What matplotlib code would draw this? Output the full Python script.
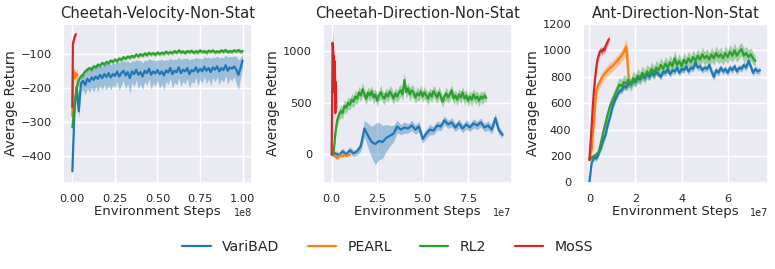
import numpy as np
import matplotlib
matplotlib.use("Agg")
import matplotlib.pyplot as plt
import seaborn as sns

sns.set_theme(style="darkgrid")
plt.rcParams['font.family'] = ['DejaVu Sans']

methods = ["VariBAD", "PEARL", "RL2", "MoSS"]
colors = {"VariBAD": "#1f77b4", "PEARL": "#ff7f0e", "RL2": "#2ca02c", "MoSS": "#d62728"}
titles = ["Cheetah-Velocity-Non-Stat", "Cheetah-Direction-Non-Stat", "Ant-Direction-Non-Stat"]

# ---------------- Panel 1: Cheetah-Velocity (x in 1e8 steps) ----------------
cv_varibad_end = 1.0e8
cv_varibad = [-445, -260, -195, -268, -185, -178, -190, -172, -180, -168,
              -175, -165, -172, -160, -170, -158, -166, -155, -168, -158,
              -163, -150, -165, -155, -148, -162, -152, -170, -150, -158,
              -145, -160, -152, -165, -148, -155, -142, -160, -150, -156,
              -146, -158, -150, -162, -147, -153, -140, -158, -148, -152,
              -138, -155, -145, -150, -140, -158, -146, -150, -138, -152,
              -142, -150, -136, -148, -140, -152, -138, -145, -135, -150,
              -140, -146, -132, -148, -138, -142, -135, -145, -160, -140, -118]
cv_varibad_std = [5, 30, 30, 20, 25, 25, 30, 28, 32, 30,
                  35, 30, 38, 32, 35, 30, 40, 35, 38, 32,
                  36, 30, 42, 35, 30, 40, 34, 45, 32, 38,
                  30, 42, 35, 40, 32, 36, 30, 44, 34, 38,
                  30, 42, 36, 44, 32, 36, 30, 42, 34, 38,
                  30, 40, 34, 38, 30, 42, 34, 36, 30, 40,
                  32, 36, 30, 38, 32, 40, 30, 36, 30, 40,
                  32, 36, 30, 40, 32, 36, 30, 40, 45, 30, 20]
cv_rl2_end = 1.0e8
cv_rl2 = [-315, -250, -200, -175, -165, -160, -150, -145, -140, -145,
          -135, -138, -130, -133, -125, -130, -122, -126, -118, -122,
          -115, -120, -112, -116, -108, -113, -106, -110, -104, -108,
          -100, -106, -99, -104, -97, -102, -95, -100, -96, -101,
          -94, -99, -95, -98, -92, -97, -93, -96, -90, -95,
          -88, -94, -91, -96, -90, -93, -89, -95, -91, -94,
          -88, -93, -90, -95, -89, -92, -88, -94, -91, -93,
          -88, -92, -87, -93, -90, -92, -88, -91, -87, -92, -90]
cv_rl2_std = [5, 10, 12, 10, 8, 8, 7, 7, 6, 7,
              6, 7, 6, 6, 6, 7, 6, 6, 6, 7,
              6, 6, 6, 7, 6, 6, 6, 7, 6, 6,
              6, 7, 6, 6, 6, 7, 6, 6, 6, 7,
              6, 6, 6, 7, 6, 6, 6, 7, 6, 6,
              6, 7, 6, 6, 6, 7, 6, 6, 8, 7,
              6, 6, 6, 7, 6, 6, 6, 7, 6, 6,
              6, 7, 6, 6, 6, 7, 6, 6, 6, 7, 6]
cv_pearl_end = 0.03e8
cv_pearl = [-282, -160, -150, -170, -155, -165, -158, -162]
cv_pearl_std = [5, 20, 15, 20, 15, 18, 15, 10]
cv_moss_end = 0.02e8
cv_moss = [-255, -70, -60, -55, -48, -45, -40]
cv_moss_std = [5, 15, 12, 10, 8, 8, 6]

# ---------------- Panel 2: Cheetah-Direction (x in 1e7 steps) ----------------
cd_varibad_end = 9.4e7
cd_varibad = [0, 10, -10, 30, 0, 40, 10, 30, 80, 250,
              180, 120, 100, 130, 120, 160, 180, 200, 270, 240,
              260, 250, 280, 240, 270, 150, 200, 240, 230, 280,
              270, 330, 290, 310, 260, 300, 250, 290, 260, 300,
              280, 310, 260, 280, 240, 350, 230, 190]
cd_varibad_std = [20, 25, 30, 30, 25, 35, 30, 35, 50, 80,
                  120, 150, 200, 180, 160, 130, 100, 80, 60, 50,
                  55, 45, 50, 45, 50, 40, 45, 50, 40, 45,
                  40, 45, 40, 45, 40, 45, 40, 45, 40, 45,
                  40, 45, 40, 45, 40, 50, 40, 30]
cd_rl2_start = 0.1e7
cd_rl2_end = 8.5e7
cd_rl2 = [0, 200, 330, 380, 420, 400, 470, 450, 500, 480,
          530, 510, 560, 540, 600, 570, 630, 580, 540, 600,
          570, 610, 550, 580, 520, 570, 600, 560, 540, 590,
          560, 610, 580, 540, 590, 560, 600, 620, 580, 720,
          600, 640, 580, 620, 600, 550, 590, 570, 610, 560,
          600, 570, 540, 590, 560, 610, 580, 550, 600, 560,
          510, 560, 590, 550, 580, 620, 540, 570, 530, 580,
          550, 600, 540, 570, 520, 560, 530, 580, 540, 560,
          520, 560, 540, 570, 545]
cd_rl2_std = [10, 40, 60, 55, 60, 55, 60, 55, 60, 55,
              60, 55, 65, 55, 60, 55, 65, 55, 60, 55,
              60, 55, 65, 55, 60, 55, 65, 55, 60, 55,
              60, 55, 65, 55, 60, 55, 65, 55, 60, 70,
              60, 55, 65, 55, 60, 55, 65, 55, 60, 55,
              60, 55, 65, 55, 60, 55, 65, 55, 60, 55,
              60, 55, 65, 55, 60, 55, 65, 55, 60, 55,
              60, 55, 65, 55, 60, 55, 65, 55, 60, 55,
              60, 55, 60, 50, 40]
cd_pearl_end = 1.0e7
cd_pearl = [0, -10, -20, -40, -15, -10, -20, -5, -15, -10, -5]
cd_pearl_std = [5, 8, 10, 12, 8, 6, 8, 6, 8, 6, 5]
cd_moss_end = 0.25e7
cd_moss = [0, 500, 1080, 1040, 850, 950, 600, 900, 400, 700, 450]
cd_moss_std = [5, 150, 120, 100, 120, 100, 150, 120, 120, 100, 80]

# ---------------- Panel 3: Ant-Direction (x in 1e7 steps) ----------------
ad_varibad_end = 7.4e7
ad_varibad = [0, 150, 190, 180, 220, 260, 320, 360, 440, 500,
              570, 620, 660, 690, 700, 730, 720, 750, 740, 770,
              760, 790, 780, 810, 790, 820, 800, 830, 810, 840,
              820, 800, 840, 830, 860, 820, 850, 840, 870, 830,
              860, 850, 880, 840, 870, 860, 910, 870, 880, 850,
              870, 860, 890, 840, 800, 850, 830, 870, 840, 860,
              830, 870, 850, 880, 840, 870, 860, 890, 870, 920,
              880, 830, 860, 840, 850]
ad_varibad_std = [5, 15, 20, 20, 25, 25, 30, 30, 30, 30,
                  30, 28, 25, 25, 25, 25, 25, 25, 25, 25,
                  25, 25, 25, 25, 25, 25, 25, 25, 25, 25,
                  25, 25, 25, 25, 25, 25, 25, 25, 25, 25,
                  25, 25, 25, 25, 25, 25, 30, 25, 25, 25,
                  25, 25, 25, 30, 30, 25, 25, 25, 25, 25,
                  25, 25, 25, 25, 25, 25, 25, 25, 25, 30,
                  25, 25, 25, 25, 20]
ad_rl2_end = 7.2e7
ad_rl2 = [170, 190, 200, 210, 230, 300, 380, 450, 520, 580,
          620, 660, 700, 740, 730, 760, 750, 780, 740, 790,
          770, 810, 790, 830, 800, 840, 820, 860, 830, 870,
          850, 890, 860, 900, 870, 910, 880, 940, 890, 920,
          880, 930, 900, 940, 910, 950, 920, 960, 930, 970,
          940, 960, 930, 970, 940, 980, 950, 970, 940, 980,
          950, 990, 960, 1000, 960, 990, 1010, 960, 980, 950,
          970, 940, 920]
ad_rl2_std = [10, 15, 20, 25, 30, 35, 40, 45, 45, 50,
              50, 50, 55, 55, 50, 55, 50, 55, 50, 55,
              50, 55, 50, 55, 50, 55, 50, 55, 50, 55,
              50, 55, 50, 55, 50, 55, 50, 60, 50, 55,
              50, 55, 50, 55, 50, 55, 50, 55, 50, 55,
              50, 55, 50, 55, 50, 55, 50, 55, 50, 55,
              50, 55, 50, 55, 50, 55, 50, 55, 50, 55,
              50, 45, 40]
ad_pearl_end = 1.7e7
ad_pearl = [180, 250, 470, 700, 740, 780, 810, 830, 850, 870,
            880, 900, 920, 940, 960, 990, 1030, 800]
ad_pearl_std = [10, 40, 60, 50, 40, 40, 40, 40, 40, 40,
                40, 40, 40, 45, 45, 50, 60, 150]
ad_moss_end = 0.85e7
ad_moss = [170, 300, 430, 580, 700, 790, 870, 930, 960, 990,
           1000, 990, 1010, 1000, 1030, 1050, 1070, 1085]
ad_moss_std = [10, 30, 40, 40, 35, 35, 30, 30, 30, 30,
               30, 30, 30, 30, 30, 30, 30, 30]

panels = [
    {"VariBAD": (0, cv_varibad_end, cv_varibad, cv_varibad_std),
     "PEARL": (0, cv_pearl_end, cv_pearl, cv_pearl_std),
     "RL2": (0, cv_rl2_end, cv_rl2, cv_rl2_std),
     "MoSS": (0, cv_moss_end, cv_moss, cv_moss_std)},
    {"VariBAD": (0, cd_varibad_end, cd_varibad, cd_varibad_std),
     "PEARL": (0, cd_pearl_end, cd_pearl, cd_pearl_std),
     "RL2": (cd_rl2_start, cd_rl2_end, cd_rl2, cd_rl2_std),
     "MoSS": (0, cd_moss_end, cd_moss, cd_moss_std)},
    {"VariBAD": (0, ad_varibad_end, ad_varibad, ad_varibad_std),
     "PEARL": (0, ad_pearl_end, ad_pearl, ad_pearl_std),
     "RL2": (0, ad_rl2_end, ad_rl2, ad_rl2_std),
     "MoSS": (0, ad_moss_end, ad_moss, ad_moss_std)},
]
ylims = [(-478, -10), (-272, 1262), (0, 1200)]
xlims = [(-0.055e8, 1.055e8), (-0.46e7, 9.9e7), (-0.29e7, 7.75e7)]
xticks = [[0, 0.25e8, 0.5e8, 0.75e8, 1.0e8], [0, 2.5e7, 5e7, 7.5e7], [0, 2e7, 4e7, 6e7]]
yticks = [[-400, -300, -200, -100], [0, 500, 1000], [0, 200, 400, 600, 800, 1000, 1200]]

fig = plt.figure(figsize=(7.75, 2.69), dpi=100)
lefts = [63 / 775, 323.3 / 775, 582.7 / 775]
rights = [252 / 775, 511.7 / 775, 768 / 775]
bottom = 1 - 182.5 / 269
top = 1 - 24 / 269

handles = {}
for i, pdata in enumerate(panels):
    ax = fig.add_axes([lefts[i], bottom, rights[i] - lefts[i], top - bottom])
    for m in methods:
        x0, x1, vals, std = pdata[m]
        vals = np.array(vals, dtype=float)
        std = np.array(std, dtype=float)
        x = np.linspace(x0, x1, len(vals))
        ax.fill_between(x, vals - std, vals + std, color=colors[m], alpha=0.38, linewidth=0)
        ln, = ax.plot(x, vals, color=colors[m], linewidth=1.6, label=m)
        handles[m] = ln
    ax.set_xlim(*xlims[i])
    ax.set_ylim(*ylims[i])
    ax.set_xticks(xticks[i])
    ax.set_yticks(yticks[i])
    ax.set_title(titles[i], fontsize=10.6, pad=4)
    ax.set_xlabel("Environment Steps", fontsize=9.5, labelpad=1)
    ax.set_ylabel("Average Return", fontsize=9.8, labelpad=2)
    ax.tick_params(axis='both', labelsize=8.2, pad=2)
    ax.xaxis.get_offset_text().set_fontsize(7)

fig.legend([handles[m] for m in methods], methods, loc="center", ncol=4,
           bbox_to_anchor=(0.5, 1 - 247 / 269), frameon=False, fontsize=10.2)

fig.savefig("out.png", dpi=100)
